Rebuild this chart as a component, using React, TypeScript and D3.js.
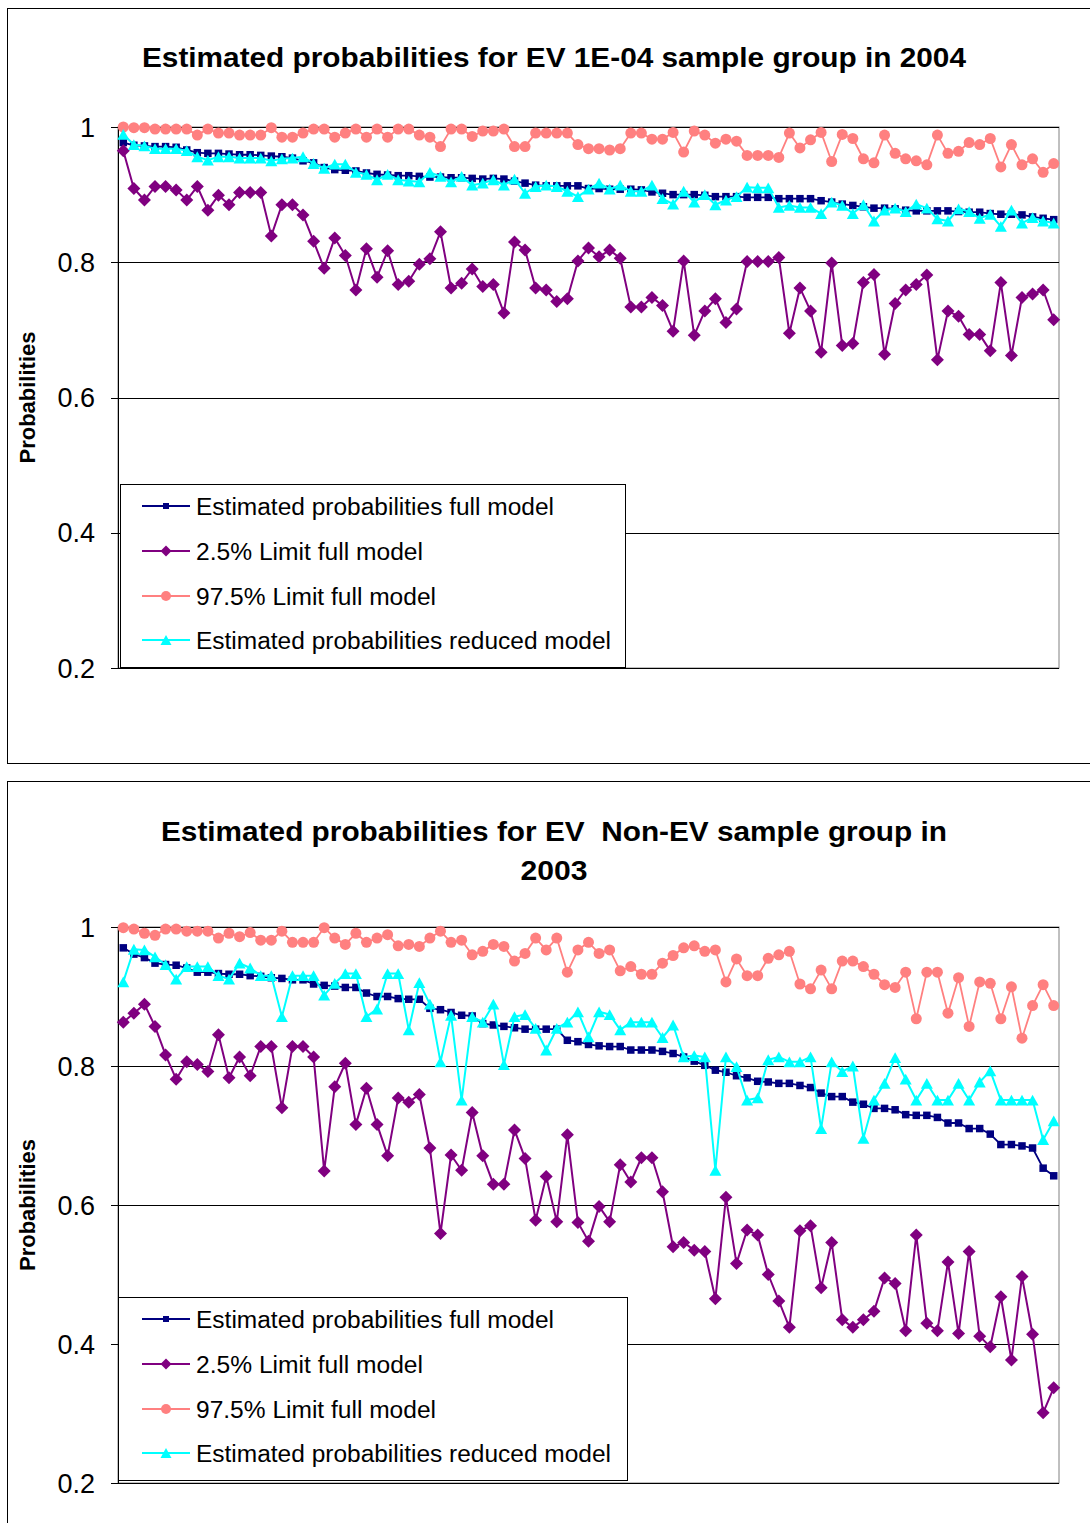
import React from "react";
import * as d3 from "d3";

// ---------- data ----------
const categories: number[] = d3.range(1, 90); // 89 samples

const seriesNames = [
  "Estimated probabilities full model",
  "2.5% Limit full model",
  "97.5% Limit full model",
  "Estimated probabilities reduced model",
];

const yTicks = [0.2, 0.4, 0.6, 0.8, 1];
const yTickLabels = ["0.2", "0.4", "0.6", "0.8", "1"];
const yAxisTitle = "Probabilities";

const topTitleLines = ["Estimated probabilities for EV 1E-04 sample group in 2004"];
const bottomTitleLines = ["Estimated probabilities for EV  Non-EV sample group in", "2003"];

// 2004, EV 1E-04 group
const top2004Full = [
  0.977, 0.973, 0.972, 0.971, 0.971, 0.970, 0.966, 0.962, 0.961, 0.961, 0.960, 0.959, 0.959, 0.958, 0.957,
  0.956, 0.954, 0.950, 0.947, 0.940, 0.937, 0.936, 0.935, 0.932, 0.930, 0.929, 0.928, 0.928, 0.927, 0.926,
  0.926, 0.925, 0.925, 0.924, 0.923, 0.924, 0.923, 0.920, 0.917, 0.914, 0.913, 0.913, 0.913, 0.913, 0.909,
  0.909, 0.908, 0.908, 0.908, 0.907, 0.904, 0.902, 0.900, 0.900, 0.900, 0.899, 0.897, 0.897, 0.897, 0.896,
  0.896, 0.896, 0.894, 0.894, 0.894, 0.894, 0.891, 0.889, 0.886, 0.884, 0.882, 0.880, 0.880, 0.879, 0.877,
  0.876, 0.876, 0.876, 0.876, 0.875, 0.874, 0.874, 0.872, 0.871, 0.871, 0.870, 0.867, 0.865, 0.863,
];
const top2004Lower = [
  0.965, 0.909, 0.892, 0.912, 0.912, 0.907, 0.892, 0.912, 0.877, 0.899, 0.885, 0.903, 0.903, 0.903, 0.839,
  0.885, 0.885, 0.870, 0.831, 0.791, 0.836, 0.810, 0.759, 0.820, 0.778, 0.817, 0.767, 0.772, 0.797, 0.805,
  0.845, 0.762, 0.769, 0.790, 0.764, 0.767, 0.725, 0.830, 0.818, 0.762, 0.759, 0.742, 0.746, 0.802, 0.821,
  0.808, 0.818, 0.806, 0.734, 0.734, 0.748, 0.736, 0.698, 0.802, 0.692, 0.728, 0.746, 0.711, 0.731, 0.801,
  0.801, 0.801, 0.807, 0.695, 0.762, 0.728, 0.667, 0.799, 0.677, 0.680, 0.770, 0.782, 0.664, 0.739, 0.759,
  0.767, 0.781, 0.656, 0.728, 0.720, 0.693, 0.693, 0.669, 0.770, 0.662, 0.748, 0.753, 0.759, 0.715,
];
const top2004Upper = [
  1.0, 0.999, 0.999, 0.997, 0.997, 0.997, 0.997, 0.988, 0.997, 0.991, 0.991, 0.988, 0.988, 0.988, 0.999,
  0.985, 0.985, 0.991, 0.997, 0.997, 0.985, 0.991, 0.997, 0.985, 0.997, 0.985, 0.997, 0.997, 0.988, 0.985,
  0.971, 0.997, 0.997, 0.986, 0.994, 0.994, 0.997, 0.971, 0.971, 0.991, 0.991, 0.991, 0.991, 0.974, 0.968,
  0.968, 0.966, 0.968, 0.991, 0.991, 0.982, 0.982, 0.992, 0.963, 0.994, 0.988, 0.976, 0.982, 0.979, 0.958,
  0.958, 0.958, 0.955, 0.991, 0.969, 0.981, 0.992, 0.949, 0.989, 0.983, 0.953, 0.947, 0.988, 0.961, 0.953,
  0.950, 0.944, 0.988, 0.961, 0.964, 0.977, 0.974, 0.983, 0.941, 0.974, 0.944, 0.953, 0.933, 0.946,
];
const top2004Reduced = [
  0.989, 0.974, 0.972, 0.968, 0.968, 0.968, 0.965, 0.956, 0.951, 0.956, 0.956, 0.954, 0.954, 0.954, 0.950,
  0.953, 0.954, 0.956, 0.946, 0.939, 0.945, 0.945, 0.933, 0.930, 0.922, 0.930, 0.922, 0.920, 0.919, 0.933,
  0.927, 0.919, 0.927, 0.914, 0.917, 0.922, 0.914, 0.923, 0.902, 0.912, 0.914, 0.912, 0.905, 0.897, 0.908,
  0.917, 0.908, 0.914, 0.905, 0.905, 0.914, 0.894, 0.886, 0.905, 0.889, 0.900, 0.885, 0.892, 0.897, 0.911,
  0.910, 0.910, 0.881, 0.884, 0.881, 0.881, 0.872, 0.889, 0.884, 0.872, 0.885, 0.861, 0.877, 0.880, 0.875,
  0.886, 0.880, 0.864, 0.861, 0.879, 0.875, 0.865, 0.871, 0.853, 0.877, 0.858, 0.866, 0.861, 0.858,
];

// 2003, EV Non-EV group
const bottom2003Full = [
  0.970, 0.961, 0.956, 0.948, 0.946, 0.945, 0.941, 0.935, 0.935, 0.933, 0.932, 0.932, 0.930, 0.929, 0.927,
  0.926, 0.924, 0.924, 0.918, 0.916, 0.915, 0.913, 0.913, 0.905, 0.900, 0.900, 0.897, 0.896, 0.896, 0.883,
  0.881, 0.877, 0.873, 0.872, 0.861, 0.859, 0.857, 0.855, 0.853, 0.853, 0.853, 0.853, 0.837, 0.835, 0.831,
  0.829, 0.828, 0.828, 0.823, 0.823, 0.823, 0.821, 0.818, 0.813, 0.807, 0.801, 0.794, 0.791, 0.786, 0.783,
  0.778, 0.777, 0.775, 0.775, 0.772, 0.769, 0.761, 0.756, 0.756, 0.748, 0.745, 0.739, 0.739, 0.737, 0.730,
  0.729, 0.729, 0.726, 0.718, 0.718, 0.710, 0.710, 0.702, 0.687, 0.687, 0.685, 0.682, 0.653, 0.642,
];
const bottom2003Lower = [
  0.863, 0.876, 0.889, 0.857, 0.816, 0.781, 0.806, 0.802, 0.792, 0.845, 0.783, 0.813, 0.786, 0.828, 0.828,
  0.740, 0.828, 0.828, 0.813, 0.649, 0.770, 0.804, 0.716, 0.768, 0.716, 0.671, 0.754, 0.748, 0.759, 0.682,
  0.559, 0.672, 0.650, 0.733, 0.671, 0.630, 0.630, 0.708, 0.667, 0.578, 0.641, 0.576, 0.701, 0.575, 0.548,
  0.598, 0.576, 0.658, 0.633, 0.668, 0.668, 0.619, 0.540, 0.546, 0.535, 0.533, 0.465, 0.611, 0.516, 0.564,
  0.557, 0.500, 0.462, 0.424, 0.563, 0.570, 0.481, 0.546, 0.435, 0.424, 0.435, 0.447, 0.495, 0.487, 0.419,
  0.557, 0.430, 0.419, 0.518, 0.415, 0.533, 0.411, 0.396, 0.468, 0.377, 0.497, 0.414, 0.301, 0.337,
];
const bottom2003Upper = [
  0.999, 0.997, 0.991, 0.988, 0.997, 0.997, 0.994, 0.994, 0.994, 0.984, 0.991, 0.986, 0.992, 0.981, 0.981,
  0.994, 0.978, 0.978, 0.978, 0.999, 0.984, 0.975, 0.991, 0.978, 0.984, 0.989, 0.973, 0.975, 0.972, 0.984,
  0.994, 0.978, 0.981, 0.960, 0.965, 0.975, 0.972, 0.951, 0.962, 0.984, 0.967, 0.984, 0.935, 0.967, 0.978,
  0.962, 0.967, 0.937, 0.943, 0.932, 0.932, 0.948, 0.959, 0.970, 0.973, 0.965, 0.967, 0.921, 0.954, 0.930,
  0.930, 0.955, 0.960, 0.965, 0.918, 0.911, 0.938, 0.911, 0.951, 0.951, 0.943, 0.932, 0.917, 0.913, 0.935,
  0.868, 0.935, 0.935, 0.876, 0.927, 0.857, 0.921, 0.919, 0.868, 0.914, 0.840, 0.887, 0.917, 0.887,
];
const bottom2003Reduced = [
  0.921, 0.968, 0.967, 0.957, 0.946, 0.925, 0.943, 0.943, 0.943, 0.930, 0.925, 0.948, 0.941, 0.930, 0.930,
  0.871, 0.930, 0.930, 0.930, 0.902, 0.919, 0.933, 0.933, 0.871, 0.882, 0.933, 0.933, 0.852, 0.920, 0.889,
  0.806, 0.873, 0.751, 0.871, 0.863, 0.889, 0.802, 0.871, 0.874, 0.854, 0.823, 0.854, 0.863, 0.878, 0.842,
  0.878, 0.874, 0.852, 0.863, 0.863, 0.863, 0.841, 0.859, 0.813, 0.815, 0.813, 0.650, 0.813, 0.799, 0.751,
  0.754, 0.809, 0.813, 0.806, 0.806, 0.813, 0.710, 0.806, 0.792, 0.800, 0.696, 0.751, 0.775, 0.812, 0.781,
  0.751, 0.775, 0.751, 0.751, 0.775, 0.751, 0.777, 0.793, 0.751, 0.751, 0.751, 0.751, 0.694, 0.721,
];

// ---------- styles ----------
const FONT = '"Liberation Sans", Arial, Helvetica, sans-serif';
type MarkerKind = "square" | "diamond" | "circle" | "triangle";
const seriesStyles: { color: string; marker: MarkerKind; size: number; legendSize: number; width: number }[] = [
  { color: "#000080", marker: "square", size: 7.5, legendSize: 6, width: 1.8 },
  { color: "#800080", marker: "diamond", size: 13, legendSize: 11, width: 2 },
  { color: "#FF8080", marker: "circle", size: 11, legendSize: 10, width: 1.8 },
  { color: "#00FFFF", marker: "triangle", size: 12, legendSize: 11, width: 2 },
];

function Marker({ kind, cx, cy, s, color }: { kind: MarkerKind; cx: number; cy: number; s: number; color: string }) {
  if (kind === "circle") return <circle cx={cx} cy={cy} r={s / 2} fill={color} />;
  let d = "";
  if (kind === "square") d = `M${cx - s / 2},${cy - s / 2}h${s}v${s}h${-s}Z`;
  if (kind === "diamond") d = `M${cx},${cy - s / 2}L${cx + s / 2},${cy}L${cx},${cy + s / 2}L${cx - s / 2},${cy}Z`;
  if (kind === "triangle") {
    const h = s * 0.9;
    d = `M${cx},${cy - h / 2}L${cx + s / 2},${cy + h / 2}L${cx - s / 2},${cy + h / 2}Z`;
  }
  return <path d={d} fill={color} />;
}

type PanelCfg = {
  frame: { x: number; y: number; w: number; h: number };
  plot: { left: number; right: number; top: number; bottom: number };
  titles: { text: string; y: number; width: number }[];
  legend: { x: number; y: number; w: number; h: number; rows: number[] };
  series: number[][];
};

const legendTextWidths = [358, 227, 240, 415];

function Panel({ cfg }: { cfg: PanelCfg }) {
  const { plot } = cfg;
  const x = d3.scalePoint<number>().domain(categories).range([plot.left, plot.right]).padding(0.5);
  const y = d3.scaleLinear().domain([0.2, 1]).range([plot.bottom, plot.top]);
  const midY = (plot.top + plot.bottom) / 2;

  return (
    <g>
      <rect x={cfg.frame.x + 0.5} y={cfg.frame.y + 0.5} width={cfg.frame.w} height={cfg.frame.h} fill="#fff" stroke="#000" strokeWidth={1} />
      {cfg.titles.map((t, i) => (
        <text key={i} x={554} y={t.y} textAnchor="middle" fontFamily={FONT} fontWeight="bold" fontSize={28}
          textLength={t.width} lengthAdjust="spacingAndGlyphs" style={{ whiteSpace: "pre" }}>{t.text}</text>
      ))}
      {/* plot area border */}
      <rect x={plot.left} y={plot.top} width={plot.right - plot.left} height={plot.bottom - plot.top} fill="#fff" stroke="#808080" strokeWidth={1} />
      {/* gridlines */}
      {yTicks.filter((t) => t > 0.2).map((t) => (
        <line key={t} x1={plot.left} x2={plot.right} y1={Math.round(y(t)) + 0.5} y2={Math.round(y(t)) + 0.5} stroke="#000" strokeWidth={1} />
      ))}
      {/* axes */}
      <line x1={plot.left + 0.5} x2={plot.left + 0.5} y1={plot.top} y2={plot.bottom} stroke="#000" />
      <line x1={plot.left} x2={plot.right} y1={plot.bottom + 0.5} y2={plot.bottom + 0.5} stroke="#000" />
      {yTicks.map((t, i) => (
        <g key={t}>
          <line x1={plot.left - 7} x2={plot.left} y1={Math.round(y(t)) + 0.5} y2={Math.round(y(t)) + 0.5} stroke="#000" />
          <text x={95} y={y(t) + 9.5} textAnchor="end" fontFamily={FONT} fontSize={27}>{yTickLabels[i]}</text>
        </g>
      ))}
      <text transform={`translate(35,${midY}) rotate(-90)`} textAnchor="middle" fontFamily={FONT} fontWeight="bold" fontSize={22}
        textLength={132} lengthAdjust="spacingAndGlyphs">{yAxisTitle}</text>
      {/* series */}
      {cfg.series.map((vals, si) => {
        const st = seriesStyles[si];
        const line = d3.line<number>().x((_, i) => x(categories[i])!).y((d) => y(d));
        return (
          <g key={si}>
            <path d={line(vals) || ""} fill="none" stroke={st.color} strokeWidth={st.width} strokeLinejoin="round" />
            {vals.map((v, i) => (
              <Marker key={i} kind={st.marker} cx={x(categories[i])!} cy={y(v)} s={st.size} color={st.color} />
            ))}
          </g>
        );
      })}
      {/* legend */}
      <rect x={cfg.legend.x + 0.5} y={cfg.legend.y + 0.5} width={cfg.legend.w} height={cfg.legend.h} fill="#fff" stroke="#000" strokeWidth={1} />
      {seriesNames.map((name, i) => {
        const st = seriesStyles[i];
        const ry = cfg.legend.rows[i];
        return (
          <g key={name}>
            <line x1={142} x2={190} y1={ry} y2={ry} stroke={st.color} strokeWidth={st.width} />
            <Marker kind={st.marker} cx={166} cy={ry} s={st.legendSize} color={st.color} />
            <text x={196} y={ry + 8.5} fontFamily={FONT} fontSize={23} textLength={legendTextWidths[i]} lengthAdjust="spacingAndGlyphs">{name}</text>
          </g>
        );
      })}
    </g>
  );
}

const topCfg: PanelCfg = {
  frame: { x: 7, y: 8, w: 1100, h: 755 },
  plot: { left: 118, right: 1059, top: 127, bottom: 668 },
  titles: [{ text: topTitleLines[0], y: 67, width: 824 }],
  legend: { x: 120, y: 484, w: 505, h: 183, rows: [506, 551, 596, 640] },
  series: [top2004Full, top2004Lower, top2004Upper, top2004Reduced],
};

const bottomCfg: PanelCfg = {
  frame: { x: 7, y: 781, w: 1100, h: 800 },
  plot: { left: 118, right: 1059, top: 927, bottom: 1483 },
  titles: [
    { text: bottomTitleLines[0], y: 841, width: 786 },
    { text: bottomTitleLines[1], y: 880, width: 67 },
  ],
  legend: { x: 118, y: 1297, w: 509, h: 183, rows: [1319, 1364, 1409, 1453] },
  series: [bottom2003Full, bottom2003Lower, bottom2003Upper, bottom2003Reduced],
};

export default function App() {
  return (
    <svg width={1090} height={1523} style={{ position: "absolute", left: 0, top: 0, background: "#fff" }}>
      <rect x={0} y={0} width={1090} height={1523} fill="#fff" />
      <Panel cfg={topCfg} />
      <Panel cfg={bottomCfg} />
    </svg>
  );
}
